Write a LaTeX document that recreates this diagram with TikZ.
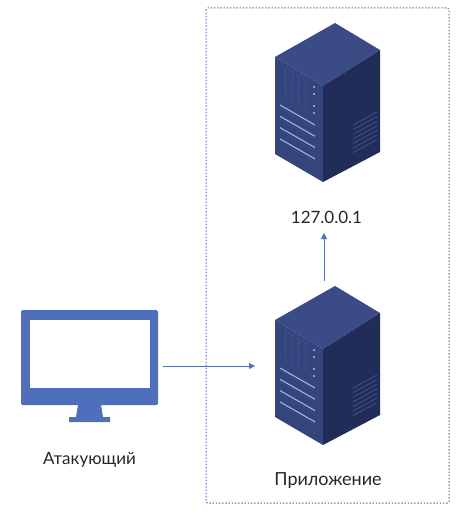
\documentclass[tikz,border=0pt]{standalone}
\usepackage{fontspec}
\setmainfont{Lato}
\usepackage{tikz}
\usetikzlibrary{arrows.meta}
\definecolor{srvtop}{HTML}{3A4B85}
\definecolor{srvfront}{HTML}{34457E}
\definecolor{srvside}{HTML}{212C58}
\definecolor{srvline}{HTML}{3F508A}
\definecolor{srvvent}{HTML}{3F4F85}
\definecolor{srvslat}{HTML}{AEBCE6}
\definecolor{monblue}{HTML}{4F6EBB}
\definecolor{boxblue}{HTML}{5A60AE}
\tikzset{
	labeltext/.style={inner sep=0.75pt,font=\fontsize{17}{20}\selectfont,text=black!85},
	flow/.style={color=monblue!85!gray,line width=0.8pt,-{Triangle[length=6pt,width=6pt]}},
	serverpic/.pic={
		%top, front and side
		\fill [srvtop] (-48,-29) -- (12,-63) -- (57,-36) -- (0,0) -- cycle;
		\fill [srvfront] (-48,-29) -- (0,0) -- (0,96) -- (-48,68) -- cycle;
		\fill [srvside] (0,0) -- (57,-36) -- (57,66) -- (0,96) -- cycle;
		%grid of the front
		\foreach \i in {0,1,2,3}
			\draw [srvline,line width=0.4pt] (-44,{-22+\i*10}) -- (-12,{-3+\i*10});
		\foreach \i in {1,2,3,4}
			\draw [srvline,line width=0.4pt] ({-44+\i*6.5},{-22+\i*3.9}) -- ({-44+\i*6.5},{6+\i*3.9});
		%lights
		\foreach \i in {1,8,20,27}
			\fill [srvslat] (-9,\i) circle (1.2);
		%slats
		\foreach \i in {0,1,2,3}{
			\draw [srvslat,line width=1pt] (-43,{19+\i*11.3}) -- (-8,{39+\i*11.3});
			\draw [srvline,line width=0.5pt] (-43,{22+\i*11.3}) -- (-8,{42+\i*11.3});
		}
		%vents of the side
		\foreach \i in {0,...,6}
			\draw [srvvent,line width=0.9pt] (30,{39+\i*4.6}) -- (54,{26+\i*4.6});
	}
}
\begin{document}
\begin{tikzpicture}[x=1pt,y=-1pt]
	\useasboundingbox (0,0) rectangle (457,516);

	%Dotted frame
	\draw [boxblue,line width=1pt,dash pattern={on 1.4pt off 1.8pt},rounded corners=1.5pt] (206,8) rectangle (449,503);

	%Servers
	\pic at (323,86) {serverpic};
	\pic at (323,349) {serverpic};

	%Monitor
	\fill [monblue,rounded corners=1.5pt] (21,310) rectangle (158,405);
	\fill [white] (30,320) rectangle (150,388);
	\fill [monblue] (78,405) -- (101,405) -- (103,417) -- (110,417) -- (110,422) -- (69,422) -- (69,417) -- (76,417) -- cycle;

	%Text nodes
	\node (atk) [labeltext] at (89.5,460) {Атакующий};
	\node (addr) [labeltext] at (326.5,217) {127.0.0.1};
	\node (app) [labeltext,font=\fontsize{18}{20}\selectfont] at (328,481) {Приложение};

	%Connector ends
	\coordinate (monr) at (163,366);
	\coordinate (srvl) at (255,366);
	\coordinate (srvt) at (324,281);
	\coordinate (addrb) at (324,233);

	\draw [flow] (monr) -- (srvl);
	\draw [flow] (srvt) -- (addrb);
\end{tikzpicture}
\end{document}
